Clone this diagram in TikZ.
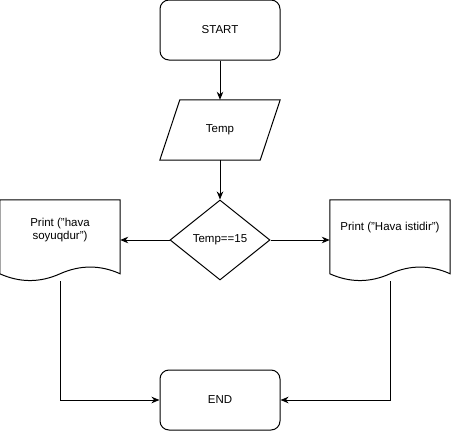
\documentclass[tikz,border=0pt]{standalone}
\usepackage{fontspec}
\setmainfont{Liberation Sans}
\usetikzlibrary{shapes.geometric,arrows.meta,calc}
\tikzset{
  x=1pt,y=-1pt,
  every node/.style={font=\fontsize{11.5}{14}\selectfont},
  line/.style={line width=1pt,draw=black},
  term/.style={line,rounded corners=9pt,minimum width=120pt,minimum height=60pt,inner sep=0pt},
  box/.style={minimum width=120pt,minimum height=60pt,inner sep=0pt},
  docbox/.style={minimum width=120pt,minimum height=80pt,inner sep=0pt},
  dec/.style={line,diamond,minimum width=100pt,minimum height=80pt,inner sep=0pt,aspect=1.25},
  conn/.style={line,-{Stealth[length=8pt,width=6.5pt,inset=2.5pt]}},
}
\begin{document}
\begin{tikzpicture}
\useasboundingbox (0,0) rectangle (451,431);
\node[term] (start) at (220,30) {START};
\node[box] (in) at (220,130) {Temp};
\draw[line] ($(in.north west)+(20,0)$) -- (in.north east) -- ($(in.south east)-(20,0)$) -- (in.south west) -- cycle;
\node[dec] (d) at (220,240) {Temp==15};
\node[docbox] (dl) at (60,240) {};
\node[align=center] (tl) at (60,230) {Print ("hava\\[-1pt]soyuqdur")};
\draw[line] (dl.north west) -- (dl.north east) -- ($(dl.north east)+(0,74)$)
  .. controls ($(dl.north east)+(-20,65)$) and ($(dl.north east)+(-40,65)$) .. ($(dl.north)+(0,74)$)
  .. controls ($(dl.north)+(-20,83)$) and ($(dl.north)+(-40,83)$) .. ($(dl.north west)+(0,74)$) -- cycle;
\node[docbox] (dr) at (390,240) {};
\node (tr) at (390,228) {Print ("Hava istidir")};
\draw[line] (dr.north west) -- (dr.north east) -- ($(dr.north east)+(0,74)$)
  .. controls ($(dr.north east)+(-20,65)$) and ($(dr.north east)+(-40,65)$) .. ($(dr.north)+(0,74)$)
  .. controls ($(dr.north)+(-20,83)$) and ($(dr.north)+(-40,83)$) .. ($(dr.north west)+(0,74)$) -- cycle;
\node[term] (end) at (220,400) {END};
\coordinate (lo) at (60,281);
\coordinate (ro) at (390,281);
\draw[conn] (start.south) -- (in.north);
\draw[conn] (in.south) -- (d.north);
\draw[conn] (d.west) -- (dl.east);
\draw[conn] (d.east) -- (dr.west);
\draw[conn] (lo) |- (end.west);
\draw[conn] (ro) |- (end.east);
\end{tikzpicture}
\end{document}
